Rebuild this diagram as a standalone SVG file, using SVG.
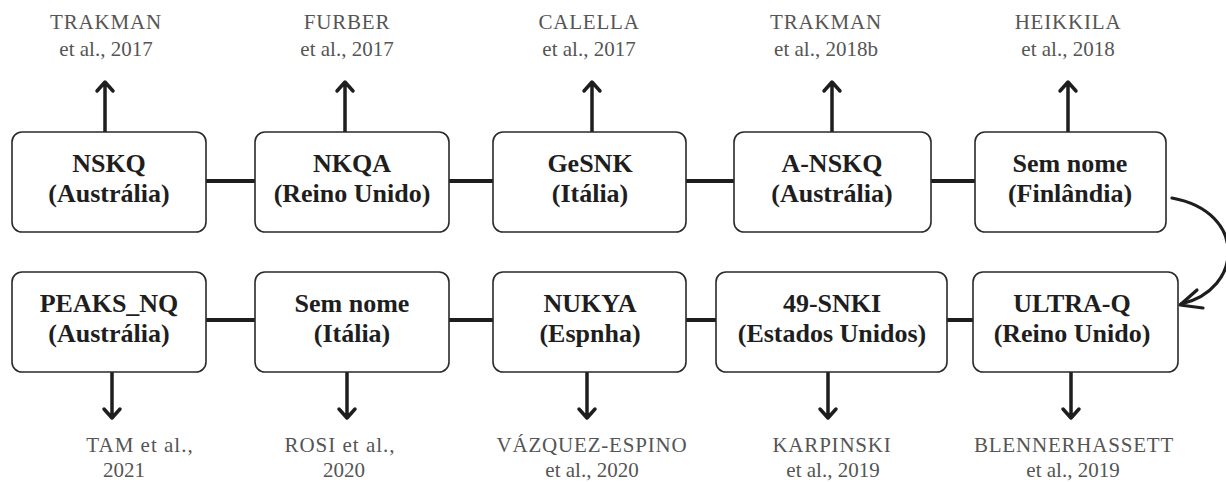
<svg xmlns="http://www.w3.org/2000/svg" width="1226" height="482" viewBox="0 0 1226 482" font-family="Liberation Serif, serif">
<style>
.box{fill:#fff;stroke:#2a2a2a;stroke-width:1.6}
text.t{font-family:"Liberation Serif",serif;font-weight:bold;font-size:26px;fill:#1e1e1e;text-anchor:middle}
text.r{font-family:"Liberation Serif",serif;font-size:21px;fill:#555;text-anchor:middle}
.c{letter-spacing:0.8px}
.w{letter-spacing:1px}
.ln{stroke:#1e1e1e;stroke-width:4;fill:none}
.ar{stroke:#1e1e1e;stroke-width:3.5;fill:none;stroke-linecap:round;stroke-linejoin:round}
</style>
<g id="connectors">
<path class="ln" d="M206 181H255M449 181H493M686 181H734M931 181H975"/>
<path class="ln" d="M206 320H255M449 320H493M686 320H716M947 320H973"/>
<path class="ar" d="M105 132V84M97 91L105 82L113 91"/>
<path class="ar" d="M345 132V84M337 91L345 82L353 91"/>
<path class="ar" d="M592 132V84M584 91L592 82L600 91"/>
<path class="ar" d="M832 132V84M824 91L832 82L840 91"/>
<path class="ar" d="M1068 132V84M1060 91L1068 82L1076 91"/>
<path class="ar" d="M112 372V416M104 409L112 418L120 409"/>
<path class="ar" d="M347 372V416M339 409L347 418L355 409"/>
<path class="ar" d="M587 372V416M579 409L587 418L595 409"/>
<path class="ar" d="M828 372V416M820 409L828 418L836 409"/>
<path class="ar" d="M1071 372V416M1063 409L1071 418L1079 409"/>
<path class="ar" style="stroke-width:3.2" d="M1172 198C1248 212 1243 290 1181 304"/>
<path class="ar" style="stroke-width:3.2" d="M1197 290L1180 305L1203 308"/>
</g>
<g id="n1"><rect class="box" x="12" y="132" width="194" height="100" rx="10"/><text class="t" x="109" y="172">NSKQ</text><text class="t" x="109" y="202">(Austrália)</text></g>
<g id="n2"><rect class="box" x="255" y="132" width="194" height="100" rx="10"/><text class="t" x="352" y="172">NKQA</text><text class="t" x="352" y="202">(Reino Unido)</text></g>
<g id="n3"><rect class="box" x="493" y="132" width="193" height="100" rx="10"/><text class="t" x="590" y="172">GeSNK</text><text class="t" x="590" y="202">(Itália)</text></g>
<g id="n4"><rect class="box" x="734" y="132" width="197" height="100" rx="10"/><text class="t" x="832" y="172">A-NSKQ</text><text class="t" x="832" y="202">(Austrália)</text></g>
<g id="n5"><rect class="box" x="975" y="132" width="191" height="100" rx="10"/><text class="t" x="1070" y="172">Sem nome</text><text class="t" x="1070" y="202">(Finlândia)</text></g>
<g id="n6"><rect class="box" x="12" y="272" width="194" height="100" rx="10"/><text class="t" x="109" y="312">PEAKS_NQ</text><text class="t" x="109" y="342">(Austrália)</text></g>
<g id="n7"><rect class="box" x="255" y="272" width="194" height="100" rx="10"/><text class="t" x="352" y="312">Sem nome</text><text class="t" x="352" y="342">(Itália)</text></g>
<g id="n8"><rect class="box" x="493" y="272" width="193" height="100" rx="10"/><text class="t" x="590" y="312">NUKYA</text><text class="t" x="590" y="342">(Espnha)</text></g>
<g id="n9"><rect class="box" x="716" y="272" width="231" height="100" rx="10"/><text class="t" x="832" y="312">49-SNKI</text><text class="t" x="832" y="342">(Estados Unidos)</text></g>
<g id="n10"><rect class="box" x="973" y="272" width="205" height="100" rx="10"/><text class="t" x="1072" y="312">ULTRA-Q</text><text class="t" x="1072" y="342">(Reino Unido)</text></g>
<g id="labels">
<text class="r c" x="106" y="29">TRAKMAN</text><text class="r" x="106" y="56">et al., 2017</text>
<text class="r c" x="347" y="29">FURBER</text><text class="r" x="347" y="56">et al., 2017</text>
<text class="r c" x="589" y="29">CALELLA</text><text class="r" x="589" y="56">et al., 2017</text>
<text class="r c" x="826" y="29">TRAKMAN</text><text class="r" x="826" y="56">et al., 2018b</text>
<text class="r c" x="1068" y="29">HEIKKILA</text><text class="r" x="1068" y="56">et al., 2018</text>
<text class="r w" x="140" y="452">TAM et al.,</text><text class="r" x="124" y="477">2021</text>
<text class="r w" x="340" y="452">ROSI et al.,</text><text class="r" x="344" y="477">2020</text>
<text class="r c" x="592" y="452">VÁZQUEZ-ESPINO</text><text class="r" x="592" y="477">et al., 2020</text>
<text class="r c" x="832" y="452">KARPINSKI</text><text class="r" x="833" y="477">et al., 2019</text>
<text class="r c" x="1074" y="452">BLENNERHASSETT</text><text class="r" x="1073" y="477">et al., 2019</text>
</g>
</svg>
